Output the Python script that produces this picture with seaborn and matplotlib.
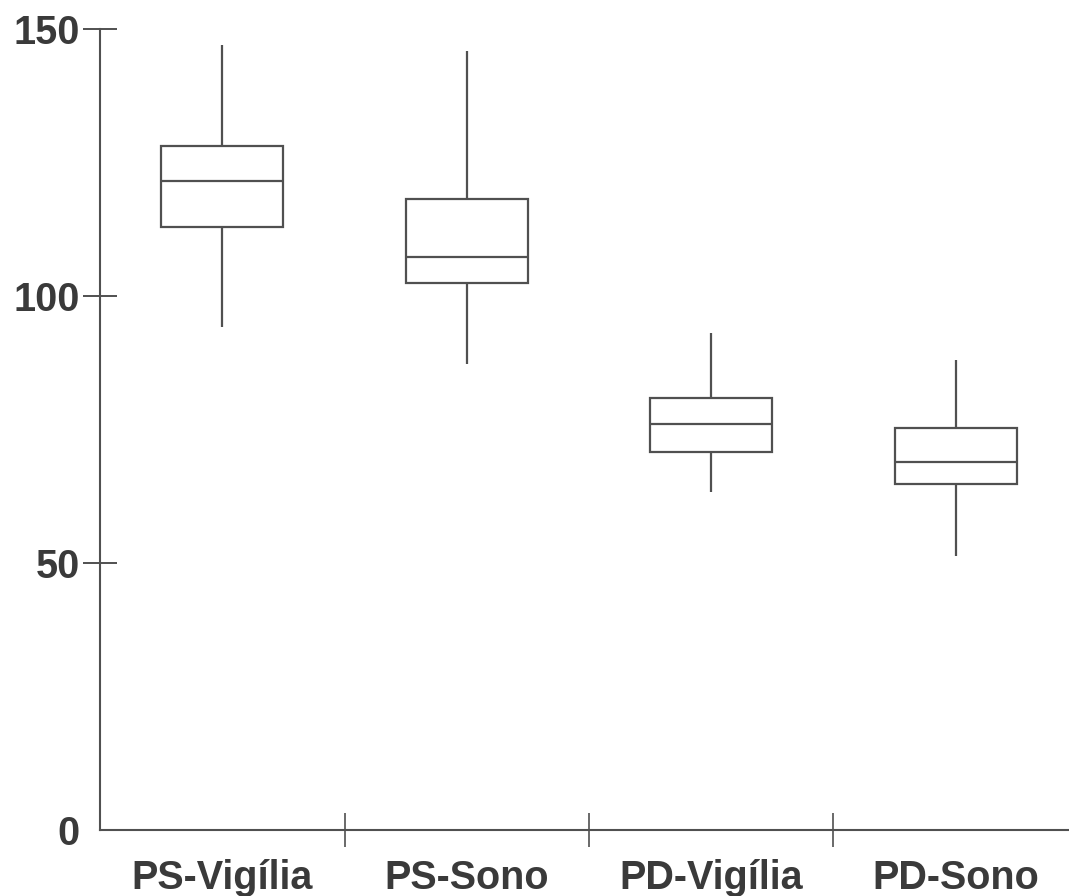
import matplotlib
matplotlib.use("Agg")
import matplotlib.pyplot as plt
import seaborn as sns
import pandas as pd

# Values (five-number summaries)
categories = ["PS-Vigília", "PS-Sono", "PD-Vigília", "PD-Sono"]
whisker_low = [94.3, 87.3, 63.2, 51.2]
q1 = [113.0, 102.5, 70.7, 64.8]
median = [121.5, 107.4, 76.0, 68.9]
q3 = [128.2, 118.3, 80.9, 75.3]
whisker_high = [147.0, 145.9, 93.0, 88.1]
y_ticks = [0, 50, 100, 150]

rows = []
for i, c in enumerate(categories):
    for v in (whisker_low[i], q1[i], median[i], q3[i], whisker_high[i]):
        rows.append({"group": c, "value": v})
df = pd.DataFrame(rows)

sns.set_style("white")
plt.rcParams["font.family"] = ["Liberation Sans", "DejaVu Sans"]

line_col = "#505050"
text_col = "#3a3a3a"

fig = plt.figure(figsize=(10.69, 8.96), dpi=100)
ax = fig.add_axes([100 / 1069, 66.5 / 896, 969 / 1069, 800 / 896])

sns.boxplot(data=df, x="group", y="value", order=categories, ax=ax,
            width=0.5, whis=(0, 100), showcaps=False, showfliers=False,
            color="white", linecolor=line_col, linewidth=1.6)

spacing = 244.5
ax.set_xlim(-0.5, -0.5 + 969 / spacing)
ax.set_ylim(0, 150)
ax.set_xlabel("")
ax.set_ylabel("")

for s in ("top", "right"):
    ax.spines[s].set_visible(False)
for s in ("left", "bottom"):
    ax.spines[s].set_color(line_col)
    ax.spines[s].set_linewidth(1.5)

ax.set_yticks(y_ticks)
ax.set_yticklabels([str(t) for t in y_ticks])
ax.tick_params(axis="y", which="major", direction="inout", length=25,
               width=1.4, color=line_col, pad=2, labelsize=28.5,
               labelcolor=text_col, left=True)
ax.yaxis.get_major_ticks()[0].tick1line.set_visible(False)

ax.set_xticks(range(len(categories)))
ax.set_xticklabels(categories)
ax.set_xticks([0.5, 1.5, 2.5], minor=True)
ax.tick_params(axis="x", which="major", length=0, pad=21, labelsize=28.5,
               labelcolor=text_col)
ax.tick_params(axis="x", which="minor", direction="inout", length=25,
               width=1.2, color=line_col, bottom=True)
for lab in ax.get_xticklabels() + ax.get_yticklabels():
    lab.set_fontweight("bold")

fig.savefig("out.png", dpi=100, facecolor="white")
